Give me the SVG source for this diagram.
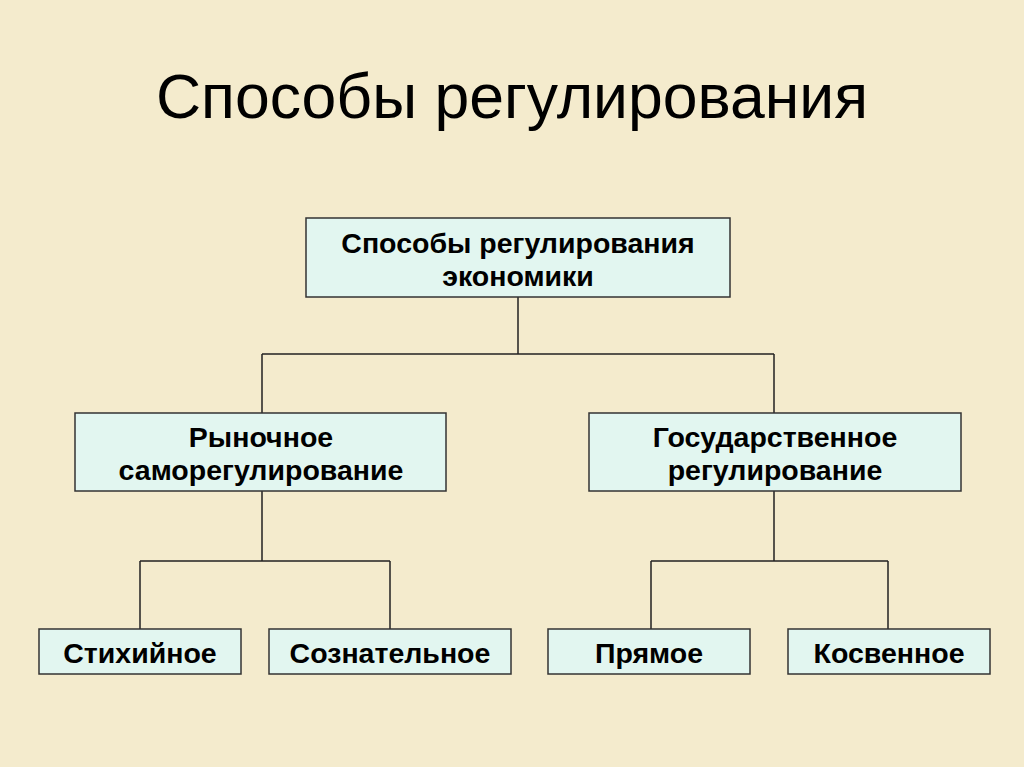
<svg xmlns="http://www.w3.org/2000/svg" width="1024" height="767" viewBox="0 0 1024 767">
<style>
.box{fill:#E2F6F0;stroke:#333;stroke-width:1.5}
.t{font-family:"Liberation Sans",Arial,sans-serif;font-weight:bold;font-size:28.5px;fill:#000;text-anchor:middle}
.c{fill:none;stroke:#222;stroke-width:1.5}
</style>
<rect width="1024" height="767" fill="#F4EBCD"/>
<text x="512" y="118" font-family="Liberation Sans,Arial,sans-serif" font-size="62.5" text-anchor="middle" fill="#000">Способы регулирования</text>
<g id="connectors">
<path class="c" d="M518,297V354M262,354H774M262,354V413M774,354V413"/>
<path class="c" d="M262,491V561M140,561H390M140,561V629M390,561V629"/>
<path class="c" d="M774,491V561M651,561H888M651,561V629M888,561V629"/>
</g>
<g id="root"><rect class="box" x="306" y="218" width="424" height="79"/><text class="t" x="518" y="253">Способы регулирования</text><text class="t" x="518" y="286">экономики</text></g>
<g id="market"><rect class="box" x="75" y="413" width="371" height="78"/><text class="t" x="261" y="447">Рыночное</text><text class="t" x="261" y="480">саморегулирование</text></g>
<g id="state"><rect class="box" x="589" y="413" width="372" height="78"/><text class="t" x="775" y="447">Государственное</text><text class="t" x="775" y="480">регулирование</text></g>
<g id="spont"><rect class="box" x="39" y="629" width="202" height="45"/><text class="t" x="140" y="663">Стихийное</text></g>
<g id="consc"><rect class="box" x="269" y="629" width="242" height="45"/><text class="t" x="390" y="663">Сознательное</text></g>
<g id="direct"><rect class="box" x="548" y="629" width="202" height="45"/><text class="t" x="649" y="663">Прямое</text></g>
<g id="indirect"><rect class="box" x="788" y="629" width="202" height="45"/><text class="t" x="889" y="663">Косвенное</text></g>
</svg>
